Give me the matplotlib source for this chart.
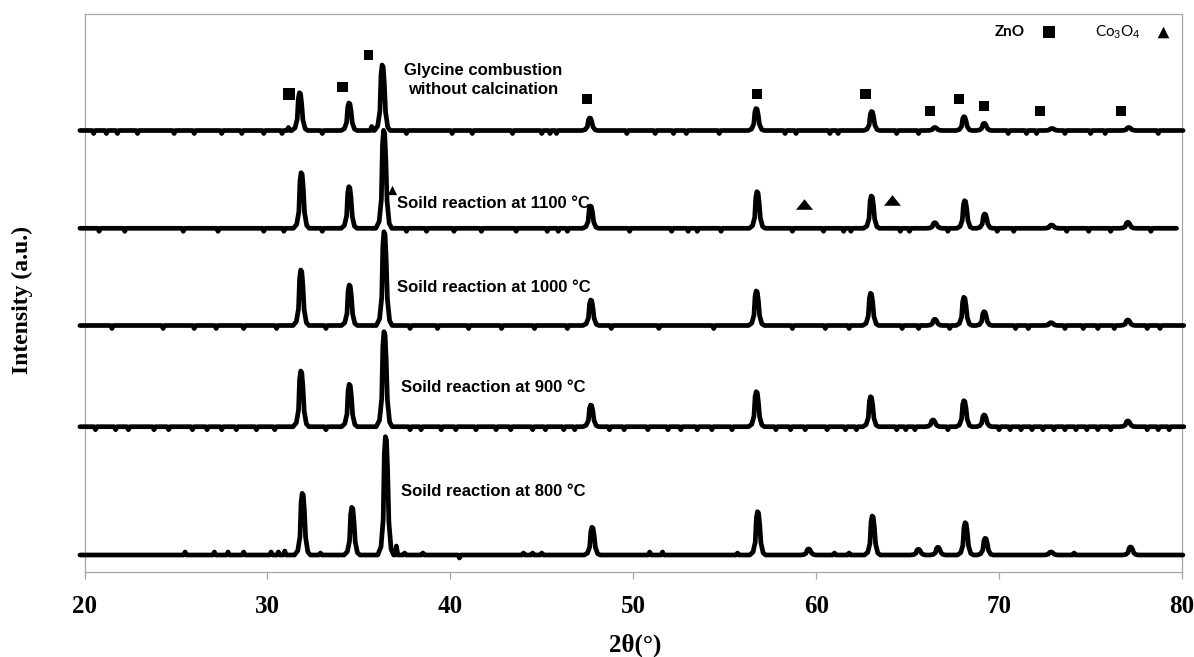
import numpy as np
import matplotlib
matplotlib.use("Agg")
import matplotlib.pyplot as plt

# ---------------- data ----------------
sample_labels = ["Glycine combustion\nwithout calcination",
                 "Soild reaction at 1100 \u00b0C",
                 "Soild reaction at 1000 \u00b0C",
                 "Soild reaction at 900 \u00b0C",
                 "Soild reaction at 800 \u00b0C"]
# vertical offset of each pattern (a.u.)
offsets = [441.2, 343.4, 246.2, 145.0, 16.7]
# 2-theta range covered by each pattern
scan_start = [19.75, 19.75, 19.75, 19.75, 19.75]
scan_end = [80.06, 79.70, 80.10, 80.10, 80.05]

# diffraction peaks: position (deg) and intensity (a.u.)
gly_peak_pos = [31.78, 34.48, 36.30, 47.64, 56.74, 63.05, 66.50, 68.10, 69.20, 72.90, 77.10]
gly_peak_int = [37.8, 27.5, 65.5, 12.5, 22.0, 19.0, 3.0, 13.8, 7.2, 2.0, 3.0]

s1100_peak_pos = [31.87, 34.48, 36.38, 47.68, 56.79, 63.04, 66.50, 68.14, 69.23, 72.88, 77.05]
s1100_peak_int = [55.6, 41.6, 98.0, 22.3, 36.6, 32.3, 5.6, 27.6, 14.3, 3.3, 6.0]

s1000_peak_pos = [31.85, 34.50, 36.40, 47.70, 56.75, 63.00, 66.50, 68.10, 69.20, 72.85, 77.05]
s1000_peak_int = [55.5, 40.5, 93.8, 25.5, 34.5, 32.2, 6.2, 28.2, 13.8, 2.8, 5.5]

s900_peak_pos = [31.85, 34.50, 36.40, 47.70, 56.75, 63.00, 66.40, 68.10, 69.20, 77.05]
s900_peak_int = [55.7, 42.4, 95.0, 21.7, 35.0, 30.0, 6.7, 26.0, 11.7, 5.7]

s800_peak_pos = [31.93, 34.64, 36.48, 47.77, 56.82, 59.60, 63.09, 65.60, 66.67, 68.17, 69.26, 72.85, 77.20]
s800_peak_int = [61.7, 47.7, 118.3, 27.7, 43.3, 6.0, 39.0, 5.7, 7.7, 32.3, 16.7, 3.0, 8.0]

# small noise features: position (deg) and value (a.u.)
gly_minor_pos = [20.5, 21.2, 21.8, 22.9, 24.9, 26.0, 27.5, 28.6, 29.8, 30.8, 31.15, 33.0, 35.7,
                 37.6, 40.1, 41.2, 43.4, 45.0, 45.45, 45.8, 49.65, 51.2, 52.2, 52.9, 54.7,
                 58.3, 58.9, 60.75, 61.2, 64.4, 65.6, 70.5, 71.5, 72.05, 73.6, 75.0, 75.8, 78.7]
gly_minor_val = [-3, -3, -3, -3, -3, -3, -3, -3, -3, -3, 3, -3, 4,
                 -3, -3, -3, -3, -3, -3, -3, -3, -3, -3, -3, -3,
                 -3, -3, -3, -3, -3, -3, -3, -3, -3, -3, -3, -3, -3]

s1100_minor_pos = [20.8, 22.2, 25.4, 27.3, 29.8, 30.9, 33.0, 37.6, 38.7, 40.2, 41.7, 43.6,
                   45.3, 45.9, 46.4, 49.8, 52.1, 53.0, 53.5, 54.8, 58.7, 60.4, 61.5, 61.9,
                   64.6, 65.1, 67.2, 69.9, 70.8, 73.7, 74.9, 76.1, 78.3]
s1100_minor_val = [-3] * len(s1100_minor_pos)

s1000_minor_pos = [21.5, 24.3, 26.0, 27.2, 28.7, 30.5, 33.2, 37.8, 39.3, 41.0, 42.8, 44.6,
                   46.4, 48.8, 51.4, 54.4, 58.7, 60.5, 61.8, 64.7, 65.6, 67.3, 70.9, 71.6,
                   73.6, 74.6, 75.4, 76.3, 78.1, 78.8]
s1000_minor_val = [-3] * len(s1000_minor_pos)

s900_minor_pos = [20.6, 21.7, 22.4, 23.8, 24.6, 25.9, 26.7, 27.5, 28.3, 29.4, 30.4, 33.2,
                  37.8, 38.4, 39.5, 40.3, 41.4, 42.5, 43.3, 44.5, 45.2, 46.2, 46.8, 48.7,
                  49.5, 50.8, 51.9, 52.6, 53.5, 54.3, 55.4, 57.8, 58.6, 59.4, 60.6, 61.6,
                  62.2, 64.4, 64.9, 65.4, 67.2, 70.0, 70.6, 71.2, 71.8, 72.4, 73.0, 73.6,
                  74.2, 74.8, 75.4, 76.1, 78.1, 78.7, 79.3]
s900_minor_val = [-3] * len(s900_minor_pos)

s800_minor_pos = [25.5, 27.1, 27.85, 28.7, 30.2, 30.6, 30.95, 32.9, 37.05, 37.5, 38.5, 40.5,
                  44.0, 44.5, 45.0, 50.9, 51.6, 55.7, 61.0, 61.8, 74.1]
s800_minor_val = [3, 3, 3, 3, 3, 3, 4, 2, 9, 2, 2, -3,
                  2, 2, 2, 3, 3, 2, 2, 2, 2]

# phase markers
zno_mark_pos = [31.18, 34.13, 35.55, 47.47, 56.77, 62.70, 66.23, 67.82, 69.18, 72.22, 76.67]
zno_mark_y = [477.7, 484.7, 516.7, 472.7, 477.7, 477.7, 460.7, 472.7, 465.7, 460.7, 460.7]
co3o4_mark_pos = [36.80, 59.35, 64.15]
co3o4_mark_y = [381.7, 368.2, 371.3]

x_ticks = [20, 30, 40, 50, 60, 70, 80]

# ---------------- drawing ----------------
PEAK_DX = [-0.45, -0.27, -0.15, -0.09, -0.03, 0.03, 0.09, 0.16, 0.28, 0.42]
PEAK_FR = [0.0, 0.07, 0.30, 0.85, 1.0, 0.97, 0.72, 0.28, 0.05, 0.0]
MINOR_DX = [-0.08, 0.0, 0.08]
MINOR_FR = [0.0, 1.0, 0.0]


def pattern(start, end, ppos, pint, mpos, mval):
    pts = [(start, 0.0), (end, 0.0)]
    for c, h in zip(ppos, pint):
        pts += [(c + dx, h * f) for dx, f in zip(PEAK_DX, PEAK_FR)]
    for c, v in zip(mpos, mval):
        pts += [(c + dx, v * f) for dx, f in zip(MINOR_DX, MINOR_FR)]
    pts.sort()
    arr = np.array(pts)
    return arr[:, 0], arr[:, 1]


peaks = [(gly_peak_pos, gly_peak_int), (s1100_peak_pos, s1100_peak_int),
         (s1000_peak_pos, s1000_peak_int), (s900_peak_pos, s900_peak_int),
         (s800_peak_pos, s800_peak_int)]
minors = [(gly_minor_pos, gly_minor_val), (s1100_minor_pos, s1100_minor_val),
          (s1000_minor_pos, s1000_minor_val), (s900_minor_pos, s900_minor_val),
          (s800_minor_pos, s800_minor_val)]

W, H = 1194, 657
fig = plt.figure(figsize=(W / 100, H / 100), dpi=100)
ax = fig.add_axes([84.5 / W, 1 - 571.7 / H, (1182 - 84.5) / W, (571.7 - 14.3) / H])
ax.set_xlim(20, 80)
ax.set_ylim(0, 557.4)

for i in range(5):
    x, y = pattern(scan_start[i], scan_end[i], *peaks[i], *minors[i])
    ax.plot(x, offsets[i] + y, color="black", lw=3.4, solid_joinstyle="round",
            solid_capstyle="round", clip_on=False, zorder=3)

ax.scatter(zno_mark_pos, zno_mark_y, marker="s", s=[75, 62, 42, 55, 55, 55, 55, 55, 55, 55, 55],
           color="black", zorder=4, linewidths=0)
wide_tri = [(-1, -0.62), (1, -0.62), (0, 0.62), (-1, -0.62)]
ax.scatter(co3o4_mark_pos[:1], co3o4_mark_y[:1], marker="^", s=45, color="black", zorder=2,
           linewidths=0)
ax.scatter(co3o4_mark_pos[1:], co3o4_mark_y[1:], marker=wide_tri, s=150, color="black",
           zorder=4, linewidths=0)

lab_font = dict(family=["Liberation Sans", "DejaVu Sans"], weight="bold", fontsize=12,
                color="black")
ax.text(41.8, 491.7, sample_labels[0], ha="center", va="center", multialignment="center",
        linespacing=1.35, **lab_font)
ax.text(37.08, 368.7, sample_labels[1], ha="left", va="center", **lab_font)
ax.text(37.08, 284.7, sample_labels[2], ha="left", va="center", **lab_font)
ax.text(37.30, 184.7, sample_labels[3], ha="left", va="center", **lab_font)
ax.text(37.30, 79.7, sample_labels[4], ha="left", va="center", **lab_font)

# legend of phases
plt.rcParams["mathtext.fontset"] = "custom"
plt.rcParams["mathtext.rm"] = "Lato"
ax.text(69.78, 539.7, "ZnO", ha="left", va="center", family=["Lato", "DejaVu Sans"],
        weight="bold", fontsize=11)
ax.scatter([72.73], [539.7], marker="s", s=75, color="black", linewidths=0, zorder=4)
ax.text(75.24, 539.7, r"$\mathrm{Co_3O_4}$", ha="left", va="center", fontsize=11)
ax.scatter([78.96], [539.7], marker="^", s=70, color="black", linewidths=0, zorder=4)

frame_c = "#a6a6a6"
for sp in ax.spines.values():
    sp.set_color(frame_c)
    sp.set_linewidth(0.9)
ax.set_yticks([])
ax.set_xticks(x_ticks)
ax.set_xticklabels([str(t) for t in x_ticks], family=["Liberation Serif", "DejaVu Serif"],
                   weight="bold", fontsize=18)
ax.tick_params(axis="x", direction="out", length=5, width=0.9, color=frame_c, pad=12)

serif = ["Liberation Serif", "DejaVu Serif"]
fig.text(635.5 / W, 1 - 645 / H, "2\u03b8(\u00b0)", ha="center", va="center", family=serif,
         weight="bold", fontsize=18)
fig.text(22 / W, 1 - 300 / H, "Intensity (a.u.)", ha="center", va="center", rotation=90,
         family=serif, weight="bold", fontsize=17)

fig.savefig("out.png", dpi=100)
